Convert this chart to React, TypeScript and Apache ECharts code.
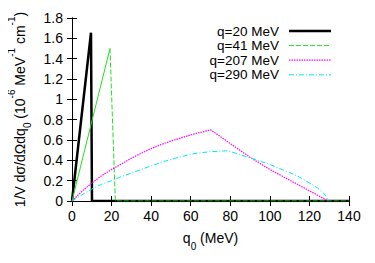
import React, { useEffect, useRef } from "react";
import * as echarts from "echarts";

const xTicks = [0, 140, 20];
const yTicks = [0, 1.8, 0.2];

const q20: [number, number][] = [[0, 0], [9.6, 1.655], [10.1, 0], [140, 0]];
const q41Rise: [number, number][] = [[0, 0], [19.2, 1.5]];
const q41Fall: [number, number][] = [[19.2, 1.5], [21.9, 0], [140, 0]];
const q207: [number, number][] = [
  [0, 0], [5, 0.095], [10, 0.177], [15, 0.25], [20, 0.31], [25, 0.365], [30, 0.42],
  [35, 0.47], [40, 0.515], [45, 0.555], [50, 0.59], [55, 0.62], [60, 0.65], [65, 0.675],
  [70.1, 0.7], [80, 0.565], [90, 0.43], [100, 0.31], [110, 0.205], [120, 0.1], [129.5, 0],
];
const q290: [number, number][] = [
  [0, 0], [5, 0.06], [10, 0.117], [15, 0.165], [20, 0.2], [25, 0.24], [30, 0.275],
  [35, 0.31], [40, 0.345], [45, 0.38], [50, 0.41], [55, 0.435], [60, 0.46], [65, 0.475],
  [70, 0.485], [75, 0.49], [79, 0.494], [85, 0.455], [90, 0.425], [95, 0.392], [100, 0.36],
  [106.8, 0.304], [110, 0.28], [115, 0.235], [120.3, 0.174], [124, 0.13], [127, 0.08],
  [128.5, 0.045], [129.5, 0],
];

const legendLabels = ["q=20 MeV", "q=41 MeV", "q=207 MeV", "q=290 MeV"];

const FONT = "'Liberation Sans', Arial, sans-serif";
const GREEN = "#22e022";
const MAGENTA = "#ff00ff";
const CYAN = "#00e8f0";

export default function App() {
  const ref = useRef<HTMLDivElement>(null);
  useEffect(() => {
    const chart = echarts.init(ref.current!, null, { renderer: "svg" });
    const axisCommon = {
      axisLine: { show: true, lineStyle: { color: "#000", width: 1 } },
      axisTick: { show: true, inside: true, length: 5, lineStyle: { color: "#000" } },
      splitLine: { show: false },
    };
    const legendStyles = [
      { color: "#000", width: 2.5, dash: null as any },
      { color: GREEN, width: 1, dash: [5, 2] },
      { color: MAGENTA, width: 1.2, dash: [1.5, 1] },
      { color: CYAN, width: 1, dash: [5, 2, 1, 2] },
    ];
    const legendY = [31, 45.6, 60.2, 74.8];
    const graphics: any[] = [];
    legendLabels.forEach((l, i) => {
      graphics.push({
        type: "text",
        x: 279,
        y: legendY[i],
        style: {
          text: l,
          align: "right",
          verticalAlign: "middle",
          fontSize: 13.5,
          lineHeight: 13,
          fontFamily: FONT,
          fill: "#000",
        },
      });
      graphics.push({
        type: "line",
        shape: { x1: 289, y1: legendY[i], x2: 331, y2: legendY[i] },
        style: {
          stroke: legendStyles[i].color,
          lineWidth: legendStyles[i].width,
          lineDash: legendStyles[i].dash,
        },
      });
    });
    const line = (data: any, color: string, width: number, type: any, z: number) => ({
      type: "line",
      data,
      showSymbol: false,
      symbol: "none",
      lineStyle: { color, width, type },
      z,
    });
    chart.setOption({
      animation: false,
      grid: { left: 72, right: 26, top: 18, bottom: 62, outerBoundsMode: "none", containLabel: false },
      xAxis: [
        {
          ...axisCommon,
          type: "value",
          min: xTicks[0],
          max: xTicks[1],
          interval: xTicks[2],
          position: "bottom",
          axisLabel: { color: "#000", fontSize: 14, fontFamily: FONT, margin: 8 },
          name: "q{sub|0} (MeV)",
          nameLocation: "middle",
          nameGap: 30,
          nameTextStyle: {
            color: "#000",
            fontSize: 14,
            fontFamily: FONT,
            rich: {
              sub: { fontSize: 10, fontFamily: FONT, color: "#000", verticalAlign: "bottom", padding: [0, 0, -6, 0] },
            },
          },
        },
        {
          ...axisCommon,
          type: "value",
          min: xTicks[0],
          max: xTicks[1],
          interval: xTicks[2],
          position: "top",
          axisLabel: { show: false },
        },
      ],
      yAxis: [
        {
          ...axisCommon,
          type: "value",
          min: yTicks[0],
          max: yTicks[1],
          interval: yTicks[2],
          position: "left",
          axisLabel: { color: "#000", fontSize: 14, fontFamily: FONT, margin: 9 },
          name: "1/V dσ/dΩdq{sub|0} (10{sup|-6} MeV{sup|-1} cm{sup|-1})",
          nameLocation: "middle",
          nameGap: 45,
          nameTextStyle: {
            color: "#000",
            fontSize: 14,
            fontFamily: FONT,
            rich: {
              sub: { fontSize: 10, fontFamily: FONT, color: "#000", verticalAlign: "bottom", padding: [0, 0, -6, 0] },
              sup: { fontSize: 10, fontFamily: FONT, color: "#000", verticalAlign: "top", padding: [-6, 0, 0, 0] },
            },
          },
        },
        {
          ...axisCommon,
          type: "value",
          min: yTicks[0],
          max: yTicks[1],
          interval: yTicks[2],
          position: "right",
          axisLabel: { show: false },
        },
      ],
      series: [
        line(q20, "#000", 2.5, "solid", 2),
        line(q41Rise, GREEN, 1, "solid", 3),
        line(q41Fall, GREEN, 1, [5, 2], 3),
        line(q207, MAGENTA, 1.2, [1.5, 1], 4),
        line(q290, CYAN, 1, [5, 2, 1, 2], 5),
      ],
      graphic: graphics,
    });
    return () => chart.dispose();
  }, []);
  return <div ref={ref} style={{ width: 375, height: 263, margin: -8 }} />;
}
